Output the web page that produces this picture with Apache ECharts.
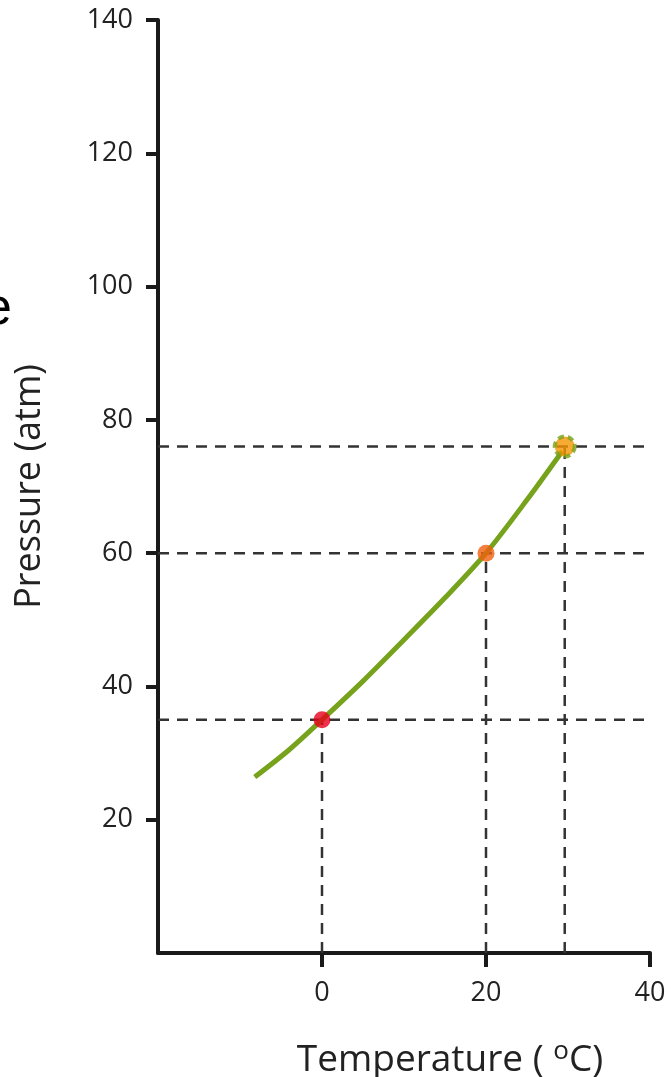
<!DOCTYPE html>
<html><head><meta charset="utf-8">
<script src="https://cdn.jsdelivr.net/npm/echarts@6/dist/echarts.min.js"></script>
<style>html,body{margin:0;padding:0;background:#fff}#c{width:671px;height:1077px}</style>
</head><body><div id="c"></div>
<script>
// curve data (Temperature °C, Pressure atm)
const curveT = [-8.2, -4, 0, 5, 10, 15, 20, 25, 29.3];
const curveP = [26.4, 30.5, 35, 40.8, 47, 53.3, 60, 68, 75.3];
// marked points
const pointT = [0, 20, 29.6];
const pointP = [35, 60, 76];
const pointColors = ['#e8001c', '#f0600e', '#f59600'];
// axis ticks
const xTicks = [0, 20, 40];
const yTicks = [20, 40, 60, 80, 100, 120, 140];
const xMin = -20, xMax = 40, yMin = 0, yMax = 140, xLineEnd = 44;

const font = 'Open Sans';
const series = [];
pointT.forEach((t, i) => {
  series.push({type:'line', data:[[xMin, pointP[i]],[xLineEnd, pointP[i]]], symbol:'none', clip:false,
    lineStyle:{color:'#333', width:2.5, type:[11,8]}, silent:true, z:1});
  series.push({type:'line', data:[[t, yMin],[t, pointP[i]]], symbol:'none',
    lineStyle:{color:'#333', width:2.5, type:[11,8]}, silent:true, z:1});
});
series.push({type:'line', data: curveT.map((t,i)=>[t, curveP[i]]), smooth:0.3, symbol:'none',
  lineStyle:{color:'#76a21c', width:5}, z:3});
series.push({type:'scatter', data: pointT.map((t,i)=>({value:[t, pointP[i]],
  symbolSize: i===2 ? 20 : 17,
  itemStyle:{color: pointColors[i], borderColor: i===2 ? '#76a21c' : 'transparent', borderWidth: i===2 ? 4 : 0, borderType: i===2 ? [6,4] : 'solid'}})),
  z:4});

const chart = echarts.init(document.getElementById('c'), null, {renderer:'canvas'});
chart.setOption({
  animation:false,
  grid:{left:158, right:21, top:20, bottom:124, containLabel:false, outerBoundsMode:'none'},
  xAxis:{type:'value', min:xMin, max:xMax, interval:20,
    axisLine:{show:true, onZero:false, lineStyle:{color:'#1a1a1a', width:4}},
    axisTick:{show:true, length:14, lineStyle:{color:'#1a1a1a', width:4}, customValues: xTicks},
    axisLabel:{fontFamily:font, fontSize:27, color:'#222', margin:27, customValues: xTicks},
    splitLine:{show:false},
    name:'Temperature ( {sup|o}C)', nameLocation:'middle', nameGap:86,
    nameTextStyle:{fontFamily:font, fontSize:37, color:'#222', padding:[0,0,0,92],
      rich:{sup:{fontFamily:font, fontSize:26, color:'#222', verticalAlign:'top', padding:[0,0,17,0]}}}
  },
  yAxis:{type:'value', min:yMin, max:yMax, interval:20,
    axisLine:{show:true, onZero:false, lineStyle:{color:'#1a1a1a', width:4}},
    axisTick:{show:true, length:12, lineStyle:{color:'#1a1a1a', width:4}, customValues: yTicks},
    axisLabel:{fontFamily:font, fontSize:27, color:'#222', margin:25, customValues: yTicks},
    splitLine:{show:false},
    name:'Pressure (atm)', nameLocation:'middle', nameGap:110, nameRotate:90,
    nameTextStyle:{fontFamily:font, fontSize:36, color:'#222'}
  },
  graphic:[{type:'text', left:-17, top:284, style:{text:'e', fontFamily:'Liberation Sans', fontSize:52, fill:'#000'}}],
  series: series
});
</script></body></html>
